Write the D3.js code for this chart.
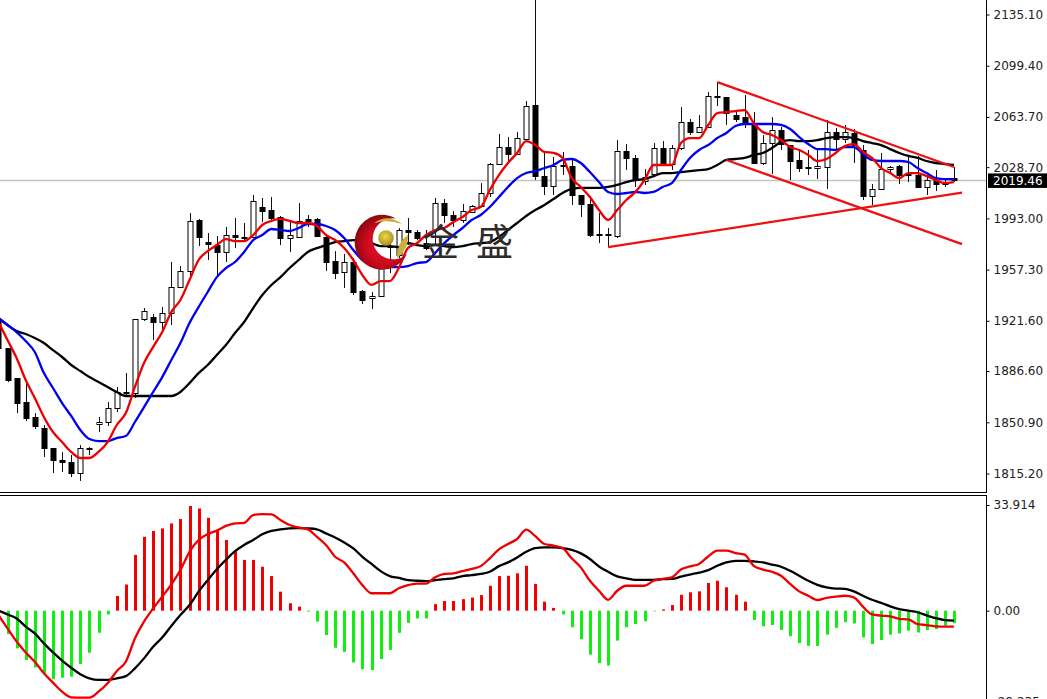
<!DOCTYPE html>
<html><head><meta charset="utf-8">
<script src="https://cdn.jsdelivr.net/npm/d3@7/dist/d3.min.js"></script>
<style>html,body{margin:0;padding:0;background:#fff;overflow:hidden}svg{display:block}</style>
</head><body><svg id="c" width="1047" height="699"></svg>
<script>
const opens=[1922.2,1902.6,1881.7,1865.0,1854.6,1846.9,1832.9,1824.6,1823.2,1815.5,
1832.9,1849.7,1851.1,1860.8,1872.0,1871.3,1922.9,1924.3,1920.8,1927.0,
1945.1,1956.3,1991.9,1976.5,1974.4,1969.6,1981.4,1980.0,1980.0,2000.9,
1998.8,1994.0,1979.3,1980.0,1992.6,1992.6,1980.0,1963.3,1955.6,1962.6,
1942.4,1937.5,1938.9,1973.7,1967.5,1984.9,1983.5,1975.8,1984.9,2003.7,
1995.4,1991.9,1997.4,2001.6,2010.7,2030.9,2042.7,2037.9,2048.3,2072.0,
2022.5,2015.6,2030.2,2029.5,2009.3,2003.0,1982.1,1982.1,1980.7,2040.0,
2035.1,2019.0,2023.9,2042.0,2030.9,2042.0,2060.2,2053.2,2056.7,2078.3,
2077.6,2065.0,2063.6,2058.1,2031.6,2045.5,2054.6,2044.1,2033.7,2028.8,
2028.1,2028.8,2053.2,2048.3,2052.5,2040.7,2008.6,2013.5,2027.4,2029.5,
2024.6,2023.2,2014.9,2019.7,2016.9,2021.1];
const closes=[1902.6,1880.3,1864.3,1853.9,1848.3,1832.9,1824.6,1823.2,1815.5,1832.9,
1832.2,1851.1,1860.8,1872.0,1871.3,1922.9,1928.4,1920.8,1927.0,1945.1,
1956.3,1991.2,1980.0,1975.1,1969.6,1981.4,1980.0,1979.3,2005.1,1998.1,
1993.3,1979.3,1981.4,1991.2,1991.2,1980.7,1962.6,1954.9,1962.6,1941.7,
1936.1,1938.9,1962.6,1973.0,1984.9,1983.5,1979.3,1972.3,2003.7,1995.4,
1991.9,1998.1,2001.6,2010.7,2030.9,2042.7,2037.9,2049.0,2071.3,2022.5,
2015.6,2029.5,2029.5,2009.3,2003.0,1981.4,1981.4,1981.4,2040.0,2035.1,
2019.7,2021.8,2042.0,2031.6,2042.0,2060.2,2053.2,2056.7,2078.3,2077.6,
2066.4,2062.3,2058.8,2031.6,2045.5,2054.6,2044.8,2033.0,2028.1,2028.1,
2029.5,2053.2,2048.3,2053.2,2044.1,2008.6,2013.5,2027.4,2028.8,2023.2,
2023.2,2014.9,2019.7,2016.9,2018.3,2019.46];
const highs=[1923.6,1902.6,1881.7,1879.6,1857.3,1849.0,1832.9,1830.2,1828.1,1835.0,
1833.6,1854.6,1865.0,1875.5,1885.2,1922.9,1930.5,1926.4,1931.2,1962.6,
1959.8,1996.7,1992.6,1982.8,1980.7,1987.0,1993.3,1989.8,2009.3,2007.2,
2007.9,1994.7,1990.5,2003.7,1995.4,1993.3,1981.4,1970.2,1968.2,1965.4,
1943.1,1941.7,1965.4,1981.4,1986.3,1993.3,1984.9,1984.9,2007.2,2006.5,
1998.1,2003.0,2002.3,2017.6,2031.6,2051.8,2049.7,2053.2,2074.8,2145.2,
2038.6,2035.8,2039.3,2033.7,2009.3,2007.2,1996.7,1986.3,2047.6,2044.8,
2037.2,2027.4,2045.5,2046.9,2044.1,2070.6,2062.3,2065.0,2081.1,2088.0,
2077.6,2067.1,2079.0,2067.1,2051.1,2063.6,2056.7,2044.1,2040.7,2040.7,
2040.7,2061.6,2056.0,2058.1,2055.3,2044.1,2016.9,2038.6,2029.5,2030.2,
2037.2,2036.5,2023.2,2026.7,2021.1,2028.8];
const lows=[1901.2,1878.9,1857.3,1851.8,1846.2,1826.7,1815.5,1816.2,1812.7,1810.0,
1828.1,1844.1,1848.3,1858.0,1868.5,1867.8,1921.5,1908.2,1915.2,1918.7,
1944.5,1951.4,1973.7,1964.0,1953.5,1962.6,1972.3,1977.9,1979.3,1990.5,
1990.5,1974.4,1969.6,1979.3,1987.0,1980.0,1956.3,1950.7,1944.5,1939.6,
1933.3,1929.8,1938.2,1954.9,1965.4,1974.4,1977.9,1970.9,1974.4,1989.8,
1987.0,1989.8,1996.7,2000.9,2007.9,2030.2,2031.6,2037.2,2047.6,2019.7,
2009.3,2009.3,2023.2,2002.3,1994.0,1980.0,1975.8,1973.0,1979.3,2026.7,
2014.9,2016.3,2021.8,2030.9,2026.7,2040.7,2051.1,2052.5,2056.0,2071.3,
2058.1,2060.2,2056.0,2030.9,2030.2,2023.9,2040.7,2019.7,2025.3,2023.2,
2020.4,2013.5,2041.3,2045.5,2031.6,2005.8,2002.3,2012.8,2025.3,2016.9,
2018.3,2014.9,2009.3,2012.1,2014.9,2018.3];
const maFast=[1920.8,1908.2,1895.7,1880.3,1867.8,1854.6,1844.1,1837.1,1830.2,1826.0,
1826.0,1830.2,1837.1,1849.0,1857.3,1875.5,1892.2,1903.3,1913.8,1927.7,
1936.1,1950.0,1964.0,1970.2,1974.4,1978.6,1977.2,1977.2,1981.4,1988.4,
1991.2,1992.6,1991.2,1989.8,1989.8,1987.7,1981.4,1977.9,1972.3,1964.0,
1953.5,1946.6,1949.3,1949.3,1958.4,1972.3,1975.8,1981.4,1984.9,1986.3,
1990.5,1994.0,1998.8,2000.9,2012.8,2023.2,2031.6,2038.6,2046.9,2044.1,
2039.3,2038.6,2035.1,2021.1,2014.9,2007.9,1998.8,1991.9,1998.8,2005.8,
2011.4,2019.7,2030.2,2030.2,2030.2,2045.5,2049.0,2049.0,2058.1,2066.4,
2067.1,2067.8,2068.5,2059.5,2053.2,2051.1,2047.6,2042.7,2040.7,2037.2,
2033.0,2034.4,2038.6,2043.4,2044.8,2039.3,2035.1,2028.1,2024.6,2021.1,
2024.6,2024.6,2022.5,2019.7,2017.6,2018.3];
const maMid=[1923.6,1918.7,1913.8,1907.5,1899.9,1885.2,1874.8,1864.3,1855.3,1845.5,
1839.2,1837.8,1837.8,1839.9,1841.3,1851.1,1861.5,1872.0,1882.4,1894.3,
1906.1,1920.1,1931.2,1941.7,1952.1,1958.4,1962.6,1969.6,1977.9,1981.4,
1985.6,1984.9,1984.2,1986.3,1989.1,1989.1,1987.7,1984.9,1979.3,1970.9,
1964.0,1960.5,1958.4,1959.1,1959.1,1959.8,1961.9,1962.6,1968.9,1975.8,
1981.4,1986.3,1991.9,1995.4,2000.9,2007.9,2014.9,2021.1,2024.6,2026.0,
2028.1,2030.2,2033.7,2034.4,2031.6,2025.3,2018.3,2011.4,2010.0,2010.7,
2011.4,2010.7,2011.4,2014.9,2017.6,2026.7,2035.1,2040.7,2044.1,2049.0,
2052.5,2057.4,2058.8,2058.8,2058.8,2058.8,2058.1,2055.3,2049.7,2044.8,
2041.3,2041.3,2040.7,2042.7,2042.7,2037.9,2033.7,2033.0,2033.0,2033.0,
2032.3,2028.1,2024.6,2021.1,2020.4,2020.4];
const maSlow=[1923.6,1918.7,1914.5,1912.4,1909.6,1906.1,1901.2,1896.4,1890.8,1886.6,
1882.4,1879.0,1875.5,1872.0,1869.2,1869.2,1869.2,1869.2,1869.2,1869.2,
1872.0,1878.2,1885.2,1890.8,1897.8,1904.7,1913.1,1920.8,1930.5,1939.6,
1946.6,1952.1,1958.4,1964.0,1969.6,1972.3,1974.4,1976.5,1977.2,1977.9,
1977.9,1975.8,1973.7,1973.7,1973.0,1975.8,1974.4,1973.7,1974.4,1973.7,
1973.0,1973.7,1975.1,1975.8,1976.5,1980.0,1984.9,1989.8,1994.7,1998.8,
2002.3,2006.5,2010.7,2013.5,2014.2,2014.2,2014.2,2014.9,2016.3,2018.3,
2019.7,2020.4,2022.5,2024.6,2024.6,2025.3,2026.0,2026.7,2027.4,2030.2,
2033.7,2034.4,2035.1,2037.2,2038.6,2042.0,2046.2,2047.6,2046.9,2046.9,
2047.6,2049.0,2049.7,2049.7,2049.0,2046.9,2045.5,2044.1,2041.3,2038.6,
2036.5,2035.1,2033.0,2031.6,2030.9,2030.2];
const histogram=[-3.0,-7.5,-12.1,-15.8,-18.2,-20.1,-22.0,-21.5,-21.2,-17.1,
-13.5,-7.1,-1.2,4.7,8.4,17.9,23.7,25.6,26.4,28.0,
29.4,33.6,32.8,29.8,25.7,22.7,19.3,16.3,16.3,14.1,
11.1,6.1,2.4,1.3,-0.3,-3.5,-7.8,-11.9,-13.2,-16.6,
-18.8,-19.1,-15.5,-12.6,-7.1,-3.9,-2.5,-2.5,2.1,3.1,
3.1,3.7,4.2,5.0,8.0,11.1,11.2,12.0,14.4,8.6,
2.9,0.9,-1.2,-5.3,-9.1,-14.1,-16.8,-17.6,-9.6,-5.3,
-4.3,-3.4,-0.2,0.4,1.8,5.1,5.9,6.2,8.9,9.6,
7.5,5.1,2.9,-3.0,-5.0,-4.6,-6.2,-8.2,-10.4,-11.3,
-11.3,-7.7,-5.5,-3.7,-4.1,-8.6,-10.7,-9.4,-7.7,-7.3,
-6.4,-7.0,-6.2,-5.9,-4.8,-4.0];
const macdLine=[0,-1.2,-2.5,-5.1,-7.3,-10.5,-13.4,-16.0,-18.3,-20.4,
-21.7,-22.2,-22.2,-21.7,-21.0,-18.5,-15.3,-11.6,-8.6,-4.9,
-1.4,1.8,6.1,9.8,13.3,16.3,19.1,21.1,22.7,24.5,
25.6,26.1,26.4,26.5,26.4,26.1,24.8,23.5,21.9,20.0,
17.3,15.0,12.7,11.1,10.5,9.8,9.6,9.5,9.8,10.1,
10.4,11.1,11.4,11.8,12.5,14.3,15.5,17.1,18.9,20.1,
20.3,20.3,20.1,19.5,18.4,16.6,14.2,12.5,11.0,10.4,
9.9,9.9,9.9,10.1,10.2,10.9,11.6,12.2,13.0,14.4,
15.5,16.0,16.0,15.8,15.5,14.8,14.1,12.8,11.2,9.6,
8.3,7.5,7.1,7.0,6.2,4.8,3.5,2.5,1.4,0.5,
0,-0.5,-1.5,-2.4,-3.0,-3.2];
const signalLine=[-1.4,-5.7,-9.9,-13.4,-16.4,-20.1,-23.1,-26.0,-27.8,-27.9,
-27.9,-26.0,-23.3,-19.4,-16.4,-8.9,-3.5,0.7,4.5,8.4,
13.0,18.9,22.7,24.6,25.7,27.2,28.0,28.2,30.7,31.0,
30.9,29.1,27.5,26.7,26.1,23.7,21.1,17.3,15.5,12.0,
8.2,5.6,5.6,5.6,7.2,8.2,8.7,8.7,10.7,11.8,
12.0,12.7,13.4,14.3,16.8,19.7,21.4,23.0,26.0,23.9,
21.4,20.9,20.1,16.8,13.9,9.6,6.4,3.5,6.4,8.0,
8.0,8.0,9.6,10.2,10.7,13.2,14.2,15.0,17.4,19.3,
19.3,18.5,18.0,14.4,13.2,12.5,11.2,8.6,6.2,4.8,
3.4,4.1,4.5,4.8,4.3,1.3,-1.2,-1.6,-1.8,-2.6,
-2.8,-4.3,-4.6,-5.0,-5.1,-5.1];
const priceTicks=[2135.10,2099.40,2063.70,2028.70,1993.00,1957.30,1921.60,1886.60,1850.90,1815.20];
const macdTicks=[33.914,0,-29.235];
const lastPrice=2019.46;
const trendDown1=[[79,2088.0],[105,2028.8]];
const trendDown2=[[80,2033.7],[105.9,1975.1]];
const trendUp=[[67,1973.0],[105.9,2011.0]];

const W=1047,H=699,AX=986.5;
const svg=d3.select('#c');
const x=d3.scaleLinear().domain([1,105]).range([7.5,953.9]);
const py=d3.scaleLinear().domain([2135.1,1815.2]).range([14.5,473.5]);
const my=d3.scaleLinear().domain([33.914,-29.235]).range([505,701.8]);
const ids=d3.range(opens.length);
const px=i=>Math.round(x(i));

const defs=svg.append('defs');
defs.append('clipPath').attr('id','cp1').append('rect').attr('width',AX).attr('height',492);
defs.append('clipPath').attr('id','cp2').append('rect').attr('y',496).attr('width',AX).attr('height',H-496);
const rg=defs.append('radialGradient').attr('id','redG').attr('cx','55%').attr('cy','55%').attr('r','60%');
rg.append('stop').attr('offset','0').attr('stop-color','#f01030');
rg.append('stop').attr('offset','0.6').attr('stop-color','#c80a1c');
rg.append('stop').attr('offset','1').attr('stop-color','#7c0810');
const gg=defs.append('radialGradient').attr('id','goldG').attr('cx','45%').attr('cy','40%').attr('r','65%');
gg.append('stop').attr('offset','0').attr('stop-color','#ecd94a');
gg.append('stop').attr('offset','1').attr('stop-color','#a08a18');

const main=svg.append('g').attr('clip-path','url(#cp1)');
main.append('line').attr('x1',0).attr('x2',AX).attr('y1',py(lastPrice)).attr('y2',py(lastPrice))
  .attr('stroke','#c4c4c4').attr('stroke-width',1.5);

const candle=main.append('g').selectAll('g').data(ids).join('g');
candle.append('line')
  .attr('x1',i=>px(i)+.5).attr('x2',i=>px(i)+.5)
  .attr('y1',i=>py(highs[i])).attr('y2',i=>py(lows[i]))
  .attr('stroke','#111').attr('stroke-width',1);
candle.append('rect')
  .attr('x',i=>px(i)-2)
  .attr('width',5)
  .attr('y',i=>Math.round(py(Math.max(opens[i],closes[i])))+.5)
  .attr('height',i=>Math.max(1,Math.round(Math.abs(py(opens[i])-py(closes[i])))))
  .attr('fill',i=>closes[i]<opens[i]?'#000':'#fff')
  .attr('stroke','#000').attr('stroke-width',1);

const ln=d3.line().x((d,i)=>x(i)).curve(d3.curveMonotoneX);
[[maSlow,'#000'],[maMid,'#0000ee'],[maFast,'#ee0000']].forEach(([s,c])=>{
  main.append('path').attr('d',ln.y(d=>py(d))(s)).attr('fill','none').attr('stroke',c).attr('stroke-width',2.3);
});
const tl=d3.line().x(d=>x(d[0])).y(d=>py(d[1]));
[trendDown1,trendDown2,trendUp].forEach(t=>{
  main.append('path').attr('d',tl(t)).attr('fill','none').attr('stroke','#ee1111').attr('stroke-width',2.3);
});

// watermark logo
const logo=svg.append('g');
logo.append('path').attr('d','M396,218.5 A27.5,27.5 0 1 0 407,254 A20.5,20.5 0 1 1 396,218.5 Z').attr('fill','url(#redG)');
logo.append('circle').attr('cx',386).attr('cy',238).attr('r',7.8).attr('fill','url(#goldG)');
logo.append('path').attr('d','M374,223 Q388,213 402,224 Q388,219 374,223 Z').attr('fill','#c9b23a');
logo.append('path').attr('d','M397,258 Q397,242 408,235 Q409,249 397,258 Z').attr('fill','#c9b23a');
logo.append('text').attr('x',422).attr('y',256).text('金').attr('font-family','"Noto Sans CJK SC"').attr('font-size',37).attr('fill','#2e2a2a');
logo.append('text').attr('x',476).attr('y',256).text('盛').attr('font-family','"Noto Sans CJK SC"').attr('font-size',37).attr('fill','#2e2a2a');

// MACD panel
const sub=svg.append('g').attr('clip-path','url(#cp2)');
sub.append('g').selectAll('rect').data(ids).join('rect')
  .attr('x',i=>px(i)-1).attr('width',3)
  .attr('y',i=>Math.min(my(0),my(histogram[i])))
  .attr('height',i=>Math.abs(my(histogram[i])-my(0)))
  .attr('fill',i=>histogram[i]>=0?'#f00000':'#11ee11');
sub.append('path').attr('d',ln.y(d=>my(d))(macdLine)).attr('fill','none').attr('stroke','#000').attr('stroke-width',2.3);
sub.append('path').attr('d',ln.y(d=>my(d))(signalLine)).attr('fill','none').attr('stroke','#ee0000').attr('stroke-width',2.3);

// frames
svg.append('line').attr('x1',0).attr('x2',AX+.5).attr('y1',492.5).attr('y2',492.5).attr('stroke','#000');
svg.append('line').attr('x1',0).attr('x2',AX+.5).attr('y1',495.5).attr('y2',495.5).attr('stroke','#000');
function axis(scale,vals,fmt,y0,y1){
  const g=svg.append('g').attr('transform',`translate(${AX},0)`)
    .call(d3.axisRight(scale).tickValues(vals).tickFormat(fmt).tickSize(3).tickPadding(4));
  g.select('.domain').remove();
  g.append('line').attr('x1',0).attr('x2',0).attr('y1',y0).attr('y2',y1).attr('stroke','#000');
  g.selectAll('text').attr('font-family','"DejaVu Sans"').attr('font-size',12).attr('fill','#222');
  g.selectAll('.tick line').attr('stroke','#000');
}
axis(py,priceTicks,d=>d.toFixed(2),0,492.5);
axis(my,macdTicks,d=>d===0?'0.00':d3.format('.3f')(d).replace('−','-'),495.5,H);

// last price tag
svg.append('rect').attr('x',988).attr('y',py(lastPrice)-7).attr('width',W-988).attr('height',14.5).attr('fill','#000');
svg.append('text').attr('x',993).attr('y',py(lastPrice)+4.5).text(lastPrice.toFixed(2))
  .attr('font-family','"DejaVu Sans"').attr('font-size',12).attr('fill','#fff');
</script></body></html>
